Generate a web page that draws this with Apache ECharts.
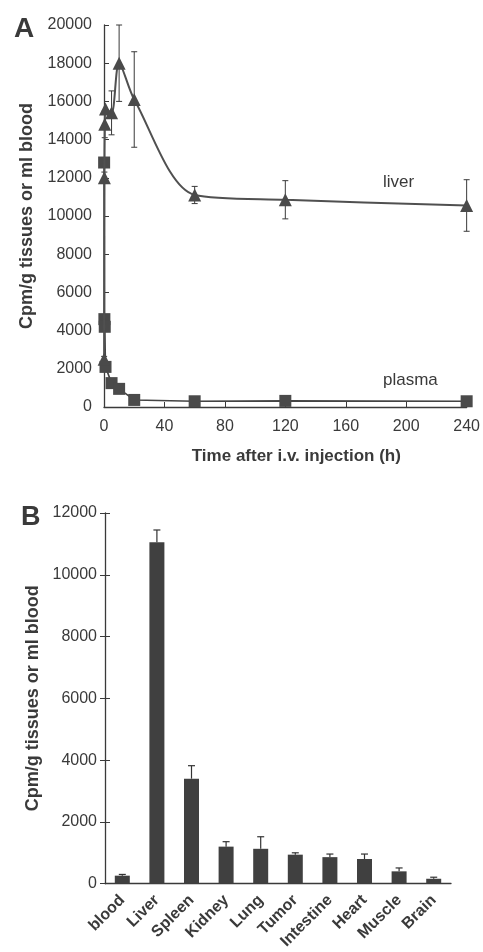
<!DOCTYPE html>
<html><head><meta charset="utf-8">
<script src="https://cdn.jsdelivr.net/npm/echarts@6/dist/echarts.min.js"></script>
<style>html,body{margin:0;padding:0;background:#fff}#c{width:483px;height:952px}</style>
</head><body><div id="c"></div>
<script>
// Panel A data (time in h)
const liverTimes = [0.08, 0.25, 0.5, 1, 5, 10, 20, 60, 120, 240];
const liverVals  = [2500, 12000, 14800, 15600, 15400, 18000, 16100, 11100, 10850, 10550];
const liverSD    = [150, 300, 700, 0, 1150, 2000, 2500, 450, 1000, 1350];
const plasmaTimes = [0.08, 0.25, 0.5, 1, 5, 10, 20, 60, 120, 240];
const plasmaVals  = [12800, 4600, 4200, 2100, 1250, 950, 370, 300, 320, 300];
const timeTicks = [0, 40, 80, 120, 160, 200, 240];
// Panel B data
const organs = ['blood','Liver','Spleen','Kidney','Lung','Tumor','Intestine','Heart','Muscle','Brain'];
const organVals = [260, 11050, 3400, 1200, 1130, 940, 860, 800, 400, 160];
const organErr  = [40, 400, 420, 160, 390, 60, 100, 160, 110, 50];

const font = '"Liberation Sans", Arial, sans-serif';
const tc = '#3a3a3a';
const ac = '#3a3a3a';
const mc = '#4a4a4a';

const chart = echarts.init(document.getElementById('c'));

function errA(params, api) {
  const x = api.value(0), y = api.value(1), sd = api.value(2);
  if (!sd) return null;
  const top = api.coord([x, y + sd]), bot = api.coord([x, y - sd]);
  const w = 3;
  const st = {stroke: ac, lineWidth: 1};
  return {type:'group', children:[
    {type:'line', shape:{x1:top[0], y1:top[1], x2:bot[0], y2:bot[1]}, style:st},
    {type:'line', shape:{x1:top[0]-w, y1:top[1], x2:top[0]+w, y2:top[1]}, style:st},
    {type:'line', shape:{x1:bot[0]-w, y1:bot[1], x2:bot[0]+w, y2:bot[1]}, style:st}
  ]};
}
function errB(params, api) {
  const x = api.value(0), y = api.value(1), e = api.value(2);
  const top = api.coord([x, y + e]), base = api.coord([x, y]);
  const w = 3.5;
  const st = {stroke: '#333', lineWidth: 1.2};
  return {type:'group', children:[
    {type:'line', shape:{x1:top[0], y1:top[1], x2:base[0], y2:base[1]}, style:st},
    {type:'line', shape:{x1:top[0]-w, y1:top[1], x2:top[0]+w, y2:top[1]}, style:st}
  ]};
}

const axisLineStyle = {color: ac, width: 1.3};
const labelStyle = {fontSize: 16, color: tc, fontFamily: font, formatter: v => String(v)};

const option = {
  animation: false,
  backgroundColor: '#fff',
  grid: [
    {left: 104, top: 25, width: 366, height: 382},
    {left: 105, top: 513, width: 346, height: 372}
  ],
  xAxis: [
    {gridIndex: 0, type: 'value', min: 0, max: 240, interval: 40,
     axisLine: {lineStyle: axisLineStyle}, axisTick: {inside: true, length: 5, lineStyle: {color: ac}},
     axisLabel: Object.assign({}, labelStyle, {margin: 12, formatter: v => timeTicks.includes(v) ? String(v) : ''}),
     splitLine: {show: false},
     name: 'Time after i.v. injection (h)', nameLocation: 'middle', nameGap: 41,
     nameTextStyle: {fontWeight: 'bold', fontSize: 17, color: tc, fontFamily: font, padding: [0, 0, 0, 22]}},
    {gridIndex: 1, type: 'category', data: organs, position: 'bottom',
     axisLine: {lineStyle: axisLineStyle},
     axisTick: {alignWithLabel: false, length: 5, lineStyle: {color: ac}},
     axisLabel: {rotate: 45, fontSize: 16, fontWeight: 'bold', color: tc, fontFamily: font, margin: 14, interval: 0}},
    {gridIndex: 1, type: 'category', data: organs, position: 'bottom',
     axisLine: {show: false},
     axisTick: {inside: true, alignWithLabel: false, length: 5, lineStyle: {color: ac}},
     axisLabel: {show: false}}
  ],
  yAxis: [
    {gridIndex: 0, type: 'value', min: 0, max: 20000, interval: 2000,
     axisLine: {show: true, lineStyle: axisLineStyle}, axisTick: {show: true, inside: true, length: 5, lineStyle: {color: ac}},
     axisLabel: Object.assign({}, labelStyle, {margin: 12}), splitLine: {show: false},
     name: 'Cpm/g tissues or ml blood', nameLocation: 'middle', nameGap: 68,
     nameTextStyle: {fontWeight: 'bold', fontSize: 18, color: tc, fontFamily: font}},
    {gridIndex: 1, type: 'value', min: 0, max: 12000, interval: 2000,
     axisLine: {show: true, lineStyle: axisLineStyle}, axisTick: {show: true, length: 5, lineStyle: {color: ac}},
     axisLabel: Object.assign({}, labelStyle, {margin: 8}), splitLine: {show: false},
     name: 'Cpm/g tissues or ml blood', nameLocation: 'middle', nameGap: 54,
     nameTextStyle: {fontWeight: 'bold', fontSize: 18, color: tc, fontFamily: font}},
    {gridIndex: 1, type: 'value', min: 0, max: 12000, interval: 2000, position: 'left',
     axisLine: {show: false}, axisTick: {show: true, inside: true, length: 5, lineStyle: {color: ac}},
     axisLabel: {show: false}, splitLine: {show: false}}
  ],
  series: [
    {type: 'line', xAxisIndex: 0, yAxisIndex: 0, name: 'plasma',
     data: plasmaTimes.map((t, i) => [t, plasmaVals[i]]),
     symbol: 'rect', symbolSize: 12, itemStyle: {color: mc},
     lineStyle: {color: '#444', width: 1.6}, z: 3},
    {type: 'line', xAxisIndex: 0, yAxisIndex: 0, name: 'liver',
     data: liverTimes.map((t, i) => [t, liverVals[i]]),
     smooth: 0.3,
     symbol: 'triangle', symbolSize: 13, itemStyle: {color: mc},
     lineStyle: {color: '#505050', width: 2}, z: 4},
    {type: 'custom', xAxisIndex: 0, yAxisIndex: 0, renderItem: errA,
     data: liverTimes.map((t, i) => [t, liverVals[i], liverSD[i]]), z: 2},
    {type: 'bar', xAxisIndex: 1, yAxisIndex: 1, data: organVals, barWidth: 15,
     itemStyle: {color: '#404040'}},
    {type: 'custom', xAxisIndex: 1, yAxisIndex: 1, renderItem: errB,
     data: organs.map((o, i) => [i, organVals[i], organErr[i]]), z: 3}
  ],
  graphic: [
    {type: 'text', left: 14, top: 15, style: {text: 'A', fontSize: 28, fontWeight: 'bold', fill: '#3a3a3a', fontFamily: font}},
    {type: 'text', left: 21, top: 504, style: {text: 'B', fontSize: 27, fontWeight: 'bold', fill: '#3a3a3a', fontFamily: font}},
    {type: 'text', left: 383, top: 174, style: {text: 'liver', fontSize: 17, fill: tc, fontFamily: font}},
    {type: 'text', left: 383, top: 372, style: {text: 'plasma', fontSize: 17, fill: tc, fontFamily: font}}
  ]
};
chart.setOption(option);
</script>
</body></html>
